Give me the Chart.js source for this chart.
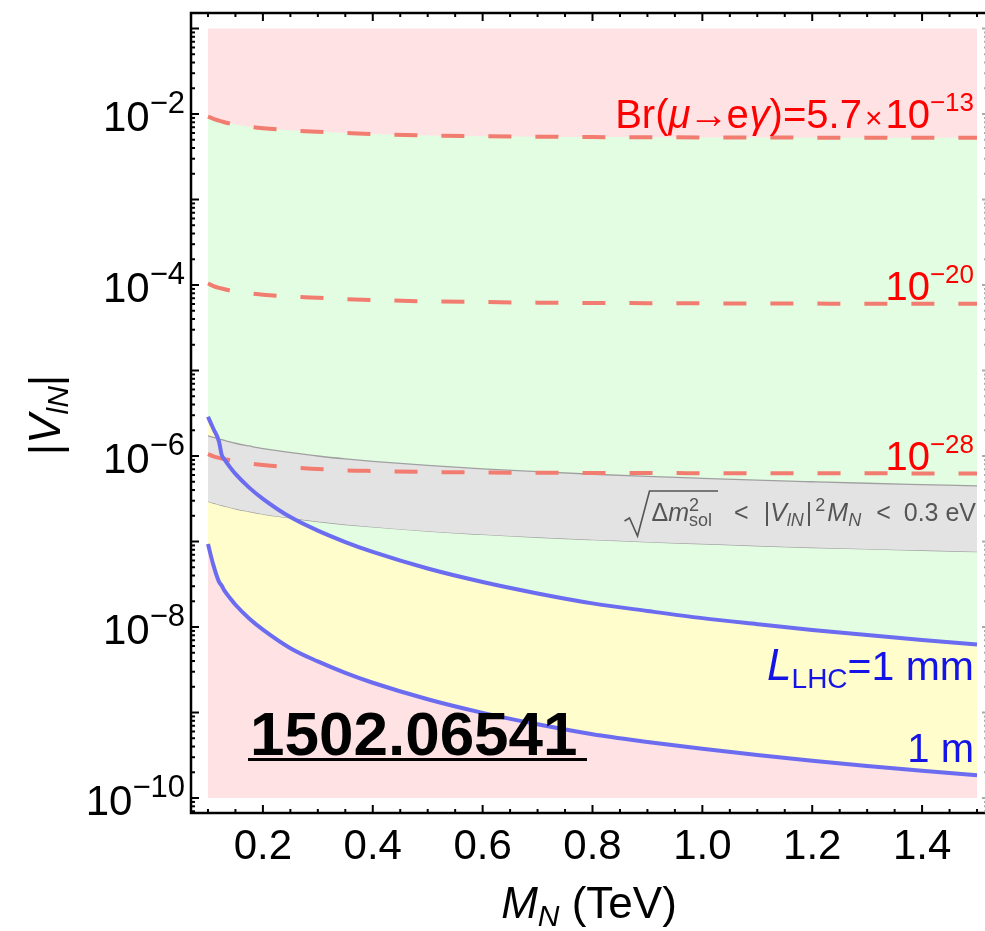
<!DOCTYPE html>
<html>
<head>
<meta charset="utf-8">
<script src="https://cdn.jsdelivr.net/npm/chart.js@4.4.1/dist/chart.umd.min.js"></script>
<style>
  html, body { margin: 0; padding: 0; background: #fff; }
  canvas { display: block; }
</style>
</head>
<body>
<canvas id="chart" width="985" height="931"></canvas>
<script>
// heavy neutrino mass M_N (TeV), common grid for all curves
const massTeV = [0.1, 0.11, 0.12, 0.125, 0.13, 0.14, 0.15, 0.175, 0.2, 0.25, 0.3, 0.35, 0.4, 0.5, 0.6, 0.7, 0.8, 0.9, 1.0, 1.1, 1.2, 1.3, 1.4, 1.5];

// |V_lN| giving Br(mu -> e gamma) = 5.7e-13, 1e-20, 1e-28
const brMeg13 = [9.3e-3, 8.78e-3, 8.37e-3, 8.19e-3, 8.01e-3, 7.73e-3, 7.52e-3, 7.1e-3, 6.82e-3, 6.44e-3, 6.19e-3, 6.0e-3, 5.83e-3, 5.62e-3, 5.5e-3, 5.43e-3, 5.37e-3, 5.35e-3, 5.32e-3, 5.31e-3, 5.29e-3, 5.28e-3, 5.27e-3, 5.26e-3];
const brMeg20 = [1.04e-4, 9.73e-5, 9.27e-5, 9.1e-5, 8.93e-5, 8.62e-5, 8.39e-5, 8.02e-5, 7.7e-5, 7.33e-5, 7.08e-5, 6.85e-5, 6.68e-5, 6.44e-5, 6.32e-5, 6.22e-5, 6.16e-5, 6.13e-5, 6.1e-5, 6.08e-5, 6.06e-5, 6.04e-5, 6.03e-5, 6.02e-5];
const brMeg28 = [1.05e-6, 9.9e-7, 9.5e-7, 9.35e-7, 9.2e-7, 8.95e-7, 8.7e-7, 8.2e-7, 7.85e-7, 7.35e-7, 7.05e-7, 6.8e-7, 6.68e-7, 6.5e-7, 6.42e-7, 6.37e-7, 6.34e-7, 6.32e-7, 6.3e-7, 6.29e-7, 6.28e-7, 6.27e-7, 6.26e-7, 6.25e-7];

// band sqrt(dm2_sol) < |V|^2 M < 0.3 eV
const seesawUpper = [1.72e-6, 1.65e-6, 1.58e-6, 1.55e-6, 1.52e-6, 1.46e-6, 1.41e-6, 1.31e-6, 1.22e-6, 1.1e-6, 1.0e-6, 9.25e-7, 8.66e-7, 7.75e-7, 7.07e-7, 6.55e-7, 6.12e-7, 5.77e-7, 5.48e-7, 5.22e-7, 5.0e-7, 4.8e-7, 4.63e-7, 4.47e-7];
const seesawLower = [2.94e-7, 2.82e-7, 2.7e-7, 2.65e-7, 2.6e-7, 2.5e-7, 2.41e-7, 2.24e-7, 2.09e-7, 1.88e-7, 1.71e-7, 1.58e-7, 1.48e-7, 1.32e-7, 1.21e-7, 1.12e-7, 1.05e-7, 9.9e-8, 9.4e-8, 8.9e-8, 8.5e-8, 8.2e-8, 7.9e-8, 7.6e-8];

// decay length at the LHC: 1 mm and 1 m
const lhc1mm = [2.88e-6, 2.07e-6, 1.48e-6, 1.03e-6, 9.12e-7, 7.41e-7, 6.17e-7, 4.27e-7, 3.16e-7, 1.93e-7, 1.34e-7, 9.86e-8, 7.55e-8, 4.83e-8, 3.36e-8, 2.47e-8, 1.89e-8, 1.54e-8, 1.27e-8, 1.08e-8, 9.25e-9, 8.04e-9, 7.05e-9, 6.25e-9];
const lhc1m = [9.33e-8, 5.26e-8, 3.39e-8, 3.05e-8, 2.66e-8, 2.19e-8, 1.82e-8, 1.26e-8, 9.33e-9, 5.66e-9, 3.96e-9, 2.91e-9, 2.23e-9, 1.43e-9, 9.91e-10, 7.28e-10, 5.57e-10, 4.53e-10, 3.76e-10, 3.18e-10, 2.73e-10, 2.37e-10, 2.08e-10, 1.85e-10];

// excluded region box
const regionX = [0.1, 1.5];
const regionTop = 1e-1;
const regionBottom = 1e-10;

const xTicks = [0.2, 0.4, 0.6, 0.8, 1.0, 1.2, 1.4];
const yLabelExps = [-2, -4, -6, -8, -10];

const FAMILY = '"Liberation Sans", Arial, Helvetica, sans-serif';
const fontOf = p => (p.it ? 'italic ' : '') + (p.bold ? 'bold ' : '') + p.s + 'px ' + FAMILY;

const pts = arr => arr.map((v, i) => ({ x: massTeV[i], y: v }));

// lay out a run of text pieces (sub/superscripts via dy)
const layoutRich = (ctx, parts) => {
    let x = 0, pend = 0;
    const items = [];
    for (const p of parts) {
        ctx.font = fontOf(p);
        const w = ctx.measureText(p.t).width;
        x += p.pre || 0;
        items.push({ p, x, w });
        if (p.over) pend = w;
        else { x += Math.max(pend, w); pend = 0; }
    }
    return { items, width: x };
};

const drawRich = (ctx, parts, x, y, align, color) => {
    const L = layoutRich(ctx, parts);
    const x0 = align === 'right' ? x - L.width : align === 'center' ? x - L.width / 2 : x;
    ctx.textAlign = 'left';
    ctx.textBaseline = 'alphabetic';
    for (const it of L.items) {
        ctx.font = fontOf(it.p);
        ctx.fillStyle = it.p.color || color;
        ctx.fillText(it.p.t, x0 + it.x, y + (it.p.dy || 0));
    }
    return { x0, items: L.items, width: L.width };
};

const frameAndText = {
    id: 'frameAndText',
    afterDraw(chart) {
        const { ctx, chartArea: a, scales: { x, y } } = chart;
        ctx.save();

        // frame
        ctx.strokeStyle = '#000';
        ctx.lineWidth = 2.5;
        ctx.beginPath();
        ctx.moveTo(a.right + 2, a.top);
        ctx.lineTo(a.left, a.top);
        ctx.lineTo(a.left, a.bottom);
        ctx.lineTo(a.right + 2, a.bottom);
        ctx.stroke();

        // log ticks on the left, faint ones on the right
        ctx.lineWidth = 2;
        for (let e = -11; e <= -1; e++) {
            for (let k = 1; k <= 9; k++) {
                const v = k * Math.pow(10, e);
                if (v < y.min || v > y.max) continue;
                const py = y.getPixelForValue(v);
                const len = k === 1 ? 8 : 4;
                ctx.strokeStyle = '#000';
                ctx.beginPath();
                ctx.moveTo(a.left, py);
                ctx.lineTo(a.left + len, py);
                ctx.stroke();
                ctx.strokeStyle = '#aaa';
                ctx.beginPath();
                ctx.moveTo(a.right + 2, py);
                ctx.lineTo(a.right + 2 - len / 2, py);
                ctx.stroke();
            }
        }
        // linear ticks top and bottom every 0.05
        ctx.strokeStyle = '#000';
        for (let i = 2; i <= 30; i++) {
            const v = i * 0.05;
            const px = x.getPixelForValue(v);
            const len = i % 4 === 0 ? 8 : 4;
            ctx.beginPath();
            ctx.moveTo(px, a.bottom);
            ctx.lineTo(px, a.bottom - len);
            ctx.moveTo(px, a.top);
            ctx.lineTo(px, a.top + len);
            ctx.stroke();
        }

        // y tick labels 10^n
        yLabelExps.forEach(e => {
            const py = y.getPixelForValue(Math.pow(10, e));
            drawRich(ctx, [
                { t: '10', s: 42 },
                { t: '\u2212' + Math.abs(e), s: 31, dy: -18 }
            ], 185, py + 17, 'right', '#000');
        });

        // axis titles
        ctx.save();
        ctx.translate(60, 415);
        ctx.rotate(-Math.PI / 2);
        drawRich(ctx, [
            { t: '|', s: 44 },
            { t: 'V', s: 44, it: true },
            { t: 'lN', s: 30, it: true, dy: 8 },
            { t: '|', s: 44 }
        ], 0, 0, 'center', '#000');
        ctx.restore();
        drawRich(ctx, [
            { t: 'M', s: 44, it: true },
            { t: 'N', s: 30, it: true, dy: 8 },
            { t: ' (TeV)', s: 44 }
        ], 589, 918, 'center', '#000');

        // curve labels
        const xr = x.getPixelForValue(1.5) - 3;
        drawRich(ctx, [
            { t: 'Br(', s: 40 }, { t: '\u03bc', s: 40, it: true }, { t: '\u2192', s: 40, pre: -2 },
            { t: 'e', s: 40, pre: -2 }, { t: '\u03b3', s: 40, it: true, pre: 1 }, { t: ')=5.7', s: 40 },
            { t: '\u00d7', s: 30, pre: 3 }, { t: '10', s: 40, pre: 3 },
            { t: '\u221213', s: 26, dy: -17 }
        ], xr, 128, 'right', '#ff0000');
        drawRich(ctx, [{ t: '10', s: 40 }, { t: '\u221220', s: 26, dy: -17 }], xr, 300, 'right', '#ff0000');
        drawRich(ctx, [{ t: '10', s: 40 }, { t: '\u221228', s: 26, dy: -17 }], xr, 470, 'right', '#ff0000');

        // band label with radical
        const g = drawRich(ctx, [
            { t: '\u0394', s: 25, pre: 27 }, { t: 'm', s: 25, it: true },
            { t: '2', s: 18, dy: -10, over: true }, { t: 'sol', s: 18, dy: 5 },
            { t: '<', s: 25, pre: 22 }, { t: '|', s: 25, pre: 15 }, { t: 'V', s: 25, it: true },
            { t: 'lN', s: 18, it: true, dy: 5 },
            { t: '|', s: 25, pre: 2 }, { t: '2', s: 18, dy: -10, pre: 3 }, { t: 'M', s: 25, it: true, pre: 2 },
            { t: 'N', s: 18, it: true, dy: 5 }, { t: '<', s: 25, pre: 15 }, { t: '0.3 eV', s: 25, pre: 13 }
        ], xr + 2, 521, 'right', '#555');
        const sol = g.items[3];
        const rx = g.x0, ry = 521;
        ctx.strokeStyle = '#555';
        ctx.lineWidth = 1.6;
        ctx.beginPath();
        ctx.moveTo(rx, ry);
        ctx.lineTo(rx + 5, ry - 3);
        ctx.lineTo(rx + 13, ry + 15);
        ctx.lineTo(rx + 25, ry - 30);
        ctx.lineTo(rx + sol.x + sol.w + 6, ry - 30);
        ctx.stroke();

        drawRich(ctx, [
            { t: 'L', s: 44, it: true }, { t: 'LHC', s: 28, dy: 8 }, { t: '=1 mm', s: 41 }
        ], xr, 680, 'right', '#1414e6');
        drawRich(ctx, [{ t: '1 m', s: 40 }], xr, 762, 'right', '#1414e6');

        // arXiv stamp
        drawRich(ctx, [{ t: '1502.06541', s: 62, bold: true }], 250, 755, 'left', '#000');
        ctx.fillStyle = '#000';
        ctx.fillRect(248, 758, 339, 3);

        ctx.restore();
    }
};

const ctx = document.getElementById('chart').getContext('2d');
const salmon = 'rgb(242,124,112)';
const blue = 'rgb(108,108,240)';
const base = { pointRadius: 0, cubicInterpolationMode: 'monotone', borderWidth: 0, borderColor: 'rgba(0,0,0,0)' };

const chart = new Chart(ctx, {
    type: 'line',
    data: {
        datasets: [
            // 0 excluded (pink) box
            { ...base, data: regionX.map(v => ({ x: v, y: regionTop })), fill: { value: regionBottom },
              backgroundColor: 'rgb(255,226,228)', order: 6 },
            // 1 allowed (green): from Br line down to 1 mm line
            { ...base, data: pts(brMeg13), fill: 2, backgroundColor: 'rgb(227,253,226)', order: 5 },
            // 2 displaced vertex (yellow): 1 mm down to 1 m
            { ...base, data: pts(lhc1mm), fill: 3, backgroundColor: 'rgb(255,253,204)', order: 4 },
            // 3 helper 1 m edge
            { ...base, data: pts(lhc1m), fill: false, order: 4 },
            // 4,5 seesaw band
            { ...base, data: pts(seesawUpper), fill: 5, backgroundColor: 'rgb(227,227,227)',
              borderColor: 'rgb(160,160,160)', borderWidth: 1.3, order: 3 },
            { ...base, data: pts(seesawLower), fill: false, borderColor: 'rgb(160,160,160)', borderWidth: 1.3, order: 3 },
            // 6-8 Br(mu -> e gamma) contours
            { ...base, data: pts(brMeg13), fill: false, borderColor: salmon, borderWidth: 4, borderDash: [23, 24], order: 2 },
            { ...base, data: pts(brMeg20), fill: false, borderColor: salmon, borderWidth: 4, borderDash: [23, 24], order: 2 },
            { ...base, data: pts(brMeg28), fill: false, borderColor: salmon, borderWidth: 4, borderDash: [23, 24], order: 2 },
            // 9,10 L_LHC lines
            { ...base, data: pts(lhc1mm), fill: false, borderColor: blue, borderWidth: 4, order: 1 },
            { ...base, data: pts(lhc1m), fill: false, borderColor: blue, borderWidth: 4, order: 1 }
        ]
    },
    options: {
        responsive: false,
        animation: false,
        devicePixelRatio: 1,
        layout: { padding: { top: 13, right: 1, left: 0, bottom: 0 } },
        plugins: { legend: { display: false }, tooltip: { enabled: false } },
        scales: {
            x: {
                type: 'linear',
                min: 0.0691,
                max: 1.5127,
                grid: { display: false, drawTicks: false },
                border: { display: false },
                afterBuildTicks: s => { s.ticks = xTicks.map(v => ({ value: v })); },
                afterFit: s => { s.height = 118; },
                ticks: {
                    padding: 9,
                    color: '#000',
                    maxRotation: 0,
                    autoSkip: false,
                    font: { family: FAMILY, size: 42 },
                    callback: v => v.toFixed(1)
                }
            },
            y: {
                type: 'logarithmic',
                min: 6.68e-11,
                max: 0.1518,
                grid: { display: false, drawTicks: false },
                border: { display: false },
                ticks: { display: false },
                afterFit: s => { s.width = 191; }
            }
        }
    },
    plugins: [frameAndText]
});
</script>
</body>
</html>
